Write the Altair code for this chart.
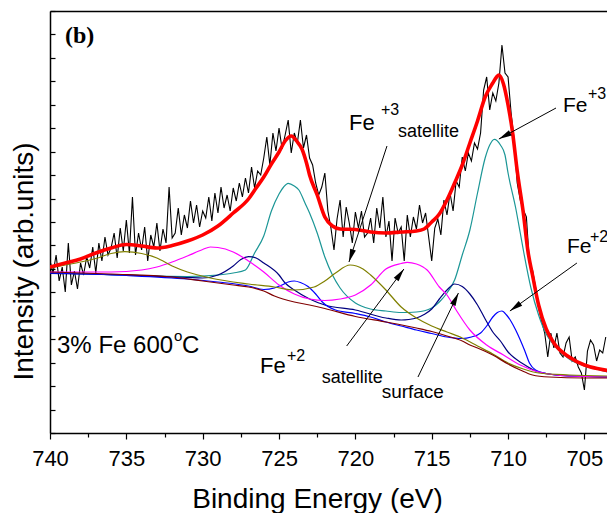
import math
import altair as alt
import pandas as pd

# ---------------- data ----------------
E_LO, E_HI = 703.52, 740.0
I_TOP = 422.0
PLOT_W, PLOT_H = 557, 422

# measured spectrum, 0.2 eV steps from 740.0 eV downwards
raw_counts = [
    172, 160, 178, 152, 166, 141, 190, 148, 162, 144,
    170, 158, 176, 165, 186, 160, 190, 172, 196, 178,
    185, 200, 175, 205, 182, 213, 180, 236, 178, 200,
    183, 206, 172, 198, 186, 210, 182, 204, 190, 246,
    195, 200, 225, 198, 218, 205, 232, 210, 228, 206,
    222, 215, 236, 212, 240, 220, 246, 225, 238, 222,
    245, 232, 250, 236, 255, 240, 266, 245, 262, 258,
    275, 296, 268, 300, 282, 305, 284, 298, 313, 280,
    300, 290, 313, 285, 298, 275, 268, 250, 238, 246,
    260, 222, 205, 183, 214, 233, 196, 226, 210, 190,
    221, 205, 222, 196, 200, 215, 190, 225, 205, 236,
    196, 212, 172, 215, 200, 206, 172, 218, 196, 216,
    204, 228, 210, 220, 196, 172, 205, 214, 198, 233,
    218, 240, 222, 252, 246, 276, 262, 280, 272, 290,
    284, 300, 343, 356, 323, 340, 332, 350, 388, 360,
    356, 320, 293, 250, 233, 223, 216, 170, 163, 146,
    125, 112, 100, 76, 100, 85, 100, 80, 76, 90,
    96, 72, 76, 66, 60, 43, 82, 93, 88, 72,
    83, 80, 96,
]
raw_energy = [round(740.0 - 0.2 * i, 1) for i in range(len(raw_counts))]

# fitted envelope (red)
env_E = [740, 739, 738, 737, 736, 735, 734, 733, 732, 731, 730, 729, 728, 727,
         726.5, 726, 725.5, 725, 724.6, 724.2, 723.8, 723.5, 723.2, 723, 722.5,
         722, 721.5, 721, 720, 719, 718, 717, 716, 715.5, 715, 714.5, 714,
         713.5, 713, 712.5, 712, 711.5, 711, 710.75, 710.6, 710.3, 710, 709.7,
         709.4, 709, 708.7, 708.4, 708, 707.5, 707, 706, 705, 704, 703.5]
env_I = [166, 170, 174, 180, 185, 188.5, 187, 185, 187.5, 192, 198, 207, 220, 234,
         245, 256, 269, 281, 292, 297, 291, 284, 270, 258, 238,
         216, 207, 204, 203.5, 201, 200, 201, 202, 204, 211, 219, 233,
         250, 268, 290, 312, 336, 350, 356, 358, 349, 328, 300,
         262, 220, 182, 158, 128, 104, 90, 76, 68, 64, 62.5]

# Fe+3 component (teal)
fe3_E = [740, 735, 731, 729, 728, 727.2, 726.6, 726, 725.5, 725, 724.7, 724.4,
         724, 723.7, 723.3, 723, 722.5, 722, 721.5, 721, 720, 719, 718, 717,
         716, 715, 714.5, 714, 713.5, 713, 712.5, 712, 711.5, 711.2, 710.9,
         710.5, 710.2, 710, 709.5, 709.2, 709, 708.5, 708, 707.5, 707, 706,
         705, 704, 703.5]
fe3_I = [160, 158, 156.5, 158, 160, 163, 180, 197, 222, 239, 246, 249.7,
         247, 243, 230, 220, 200, 176, 158, 145, 130, 124, 122, 120.5,
         121, 125, 131, 140, 153, 178, 203, 240, 275, 288, 293.7,
         288, 278, 260, 225, 200, 183, 145, 118, 99, 88, 74,
         67, 63, 61]

# surface component (navy)
surf_E = [740, 735, 731, 730, 729, 728, 727.5, 727, 726.5, 726, 725, 724.6, 724,
          723, 722, 720, 718, 717, 716.5, 716, 715.5, 715, 714.5, 714, 713.5,
          713, 712.5, 712, 711.5, 711, 710.5, 710, 709, 708, 706, 703.5]
surf_I = [159.5, 158, 155.5, 155, 158, 167, 173.5, 176.3, 175, 170, 158, 150, 143,
          134, 128, 123, 115, 113, 113.5, 115, 118.5, 124, 134, 143, 149,
          146.5, 139, 128, 114, 101, 92, 81, 69, 61, 57, 56]

# Fe+2 component (blue)
fe2_E = [740, 735, 731, 729, 727, 726, 725.3, 724.8, 724.4, 724, 723.6, 723.1,
         722.6, 722.2, 721.3, 720, 719, 718, 717, 716, 715, 714, 713, 712.4,
         711.8, 711.4, 711, 710.7, 710.4, 710.1, 709.8, 709.5, 709.2, 708.9,
         708.6, 708.2, 707.5, 706, 703.5]
fe2_I = [160, 157.5, 154, 151, 147, 143.5, 145, 148, 151, 152, 150.5, 146.5,
         139, 131.5, 123, 119.5, 116, 111, 107, 103, 99.5, 96, 94.5, 96,
         100, 107, 116, 120.5, 122, 118, 111.5, 103, 93, 82,
         70, 63, 59.5, 57, 56]

# Fe+2 satellite (magenta)
sat2_E = [740, 736, 734, 733, 732, 731, 730, 729.5, 729, 728, 727, 726, 725,
          724, 723, 722, 721, 720, 719, 718, 717, 716.6, 716, 715.3, 714.5,
          714, 713.4, 712.5, 711.4, 710.3, 709.2, 708, 706, 703.5]
sat2_I = [161, 161, 163, 166, 171, 177, 183.5, 186, 185.5, 181, 172, 161, 148,
          139, 134, 132.5, 134, 138, 148, 164, 169.5, 170.7, 169, 163, 146,
          138, 123, 103, 88, 78, 68, 61, 57, 56]

# Fe+3 satellite (olive)
sat3_E = [740, 738, 737, 736, 735.1, 734, 733, 732, 731, 729.5, 727, 725.3, 724,
          722.7, 722, 721.3, 720.35, 719.5, 719, 718, 717, 716, 715, 714, 713,
          712, 711, 710, 709, 708, 706, 703.5]
sat3_I = [165, 171, 174.5, 179.5, 181.3, 179.5, 175, 167, 161, 155, 149, 146, 143,
          146, 152, 160, 168, 164, 158, 143, 126, 115, 107, 101, 95,
          87, 79, 70, 64, 60, 58, 57]

# Shirley background (dark red)
bg_E = [740, 736, 732, 730, 728, 727, 726, 725.3, 724, 723, 722, 720, 718, 716,
        715, 714, 713, 712.5, 712, 711, 710, 709.2, 708.4, 707.3, 705, 703.5]
bg_I = [161, 159, 156, 152, 148, 146, 142, 137, 131, 128, 124.5, 116.5, 111, 105,
        101.5, 97, 92, 88, 85, 78, 69, 63, 58, 56, 55, 55]

# annotation labels
lab_text = ["Fe", "+3", "satellite", "Fe", "+3", "Fe", "+2", "Fe", "+2",
            "satellite", "surface", "3% Fe 600", "o", "C"]
lab_E = [720.42, 718.32, 717.21, 706.40, 704.77, 706.14, 704.64, 726.25, 724.48,
         722.21, 718.28, 739.54, 731.88, 731.36]
lab_I = [303, 318, 296, 321, 334.5, 180, 191, 60, 72,
         50.3, 35, 80, 92.3, 80]
lab_size = [22, 16, 18, 21, 16, 21, 16, 22, 16, 18, 19, 24, 15, 24]

panel_text = ["(b)"]
panel_E = [739.02]
panel_I = [390]

# arrows: start -> tip
arr_E0 = [717.93, 706.86, 705.49, 720.57, 715.90]
arr_I0 = [287, 325, 170, 87, 56]
arr_E1 = [720.42, 710.60, 709.88, 716.82, 713.25]
arr_I1 = [171, 294, 122, 164, 140]

x_major = [740, 735, 730, 725, 720, 715, 710, 705]
x_minor = [737.5, 732.5, 727.5, 722.5, 717.5, 712.5, 707.5]
y_tick_vals = [round(k * I_TOP / 18, 2) for k in range(0, 19)]

# ---------------- chart ----------------
FONT = "Liberation Sans"
xs = alt.Scale(domain=[E_LO, E_HI], reverse=True, nice=False, zero=False)
ys = alt.Scale(domain=[0, I_TOP], nice=False, zero=False)


def curve(E, I, color, width, interp="monotone", xa=None, ya=None):
    df = pd.DataFrame({"E": E, "I": I})
    return alt.Chart(df).mark_line(
        color=color, strokeWidth=width, interpolate=interp, clip=True
    ).encode(
        x=alt.X("E:Q", scale=xs, axis=xa),
        y=alt.Y("I:Q", scale=ys, axis=ya),
    )


ax_bottom = alt.Axis(
    orient="bottom", values=x_major, format="d", tickSize=6, tickWidth=1.2,
    tickColor="black", labelFont=FONT, labelFontSize=22, labelColor="black",
    labelPadding=9, labelFlush=False, labelOverlap=False, domain=True,
    domainColor="black", domainWidth=1.5, grid=False,
    title="Binding Energy (eV)", titleFont=FONT, titleFontSize=28,
    titleFontWeight="normal", titleColor="black", titleX=267, titleY=74,
    titleBaseline="alphabetic", titleAlign="center",
)
ax_minor = alt.Axis(
    orient="bottom", values=x_minor, tickSize=4, tickWidth=1.2, tickColor="black",
    labels=False, domain=False, grid=False, title=None,
)
ax_top = alt.Axis(
    orient="top", ticks=False, labels=False, domain=True, domainColor="black",
    domainWidth=1.5, grid=False, title=None,
)
ax_left = alt.Axis(
    orient="left", ticks=False, labels=False, domain=True, domainColor="black",
    domainWidth=1.5, grid=False, title="Intensity (arb.units)", titleFont=FONT,
    titleFontSize=28, titleFontWeight="normal", titleColor="black",
    titleX=-18, titleY=250, titleAngle=270, titleBaseline="alphabetic",
    titleAlign="center",
)
ax_yticks = alt.Axis(
    orient="right", offset=-PLOT_W, values=y_tick_vals, tickSize=5, tickWidth=1.2,
    tickColor="black", labels=False, domain=False, grid=False, title=None,
)

raw = curve(raw_energy, raw_counts, "black", 1.1, "linear", ax_bottom, ax_left)
teal = curve(fe3_E, fe3_I, "#1b9696", 1.2, xa=ax_minor, ya=ax_yticks)
navy = curve(surf_E, surf_I, "#00007f", 1.2, xa=ax_top)
blue = curve(fe2_E, fe2_I, "#0000ff", 1.2)
mag = curve(sat2_E, sat2_I, "#ff00ff", 1.2)
olive = curve(sat3_E, sat3_I, "#808000", 1.2)
bg = curve(bg_E, bg_I, "#800000", 1.2)
env = curve(env_E, env_I, "#ff0000", 3.6)

# annotations
lab_df = pd.DataFrame({"E": lab_E, "I": lab_I, "t": lab_text, "s": lab_size})
labels = alt.Chart(lab_df).mark_text(
    align="left", baseline="alphabetic", font=FONT, color="black"
).encode(
    x=alt.X("E:Q", scale=xs, axis=None),
    y=alt.Y("I:Q", scale=ys, axis=None),
    text="t:N",
    size=alt.Size("s:Q", scale=None, legend=None),
)

panel_df = pd.DataFrame({"E": panel_E, "I": panel_I, "t": panel_text})
panel = alt.Chart(panel_df).mark_text(
    align="left", baseline="alphabetic", font="Liberation Serif",
    fontWeight="bold", fontSize=24, color="black"
).encode(
    x=alt.X("E:Q", scale=xs, axis=None),
    y=alt.Y("I:Q", scale=ys, axis=None),
    text="t:N",
)

px_per_E = PLOT_W / (E_HI - E_LO)
px_per_I = PLOT_H / I_TOP
seg_rows = []
head_rows = []
for k in range(len(arr_E0)):
    seg_rows.append({"E": arr_E0[k], "I": arr_I0[k], "a": k})
    seg_rows.append({"E": arr_E1[k], "I": arr_I1[k], "a": k})
    dx = (arr_E0[k] - arr_E1[k]) * px_per_E
    dy = (arr_I0[k] - arr_I1[k]) * px_per_I
    ang = math.degrees(math.atan2(dx, -dy)) % 360
    head_rows.append({"E": arr_E1[k], "I": arr_I1[k], "ang": ang})

segs = alt.Chart(pd.DataFrame(seg_rows)).mark_line(
    color="black", strokeWidth=1
).encode(
    x=alt.X("E:Q", scale=xs, axis=None),
    y=alt.Y("I:Q", scale=ys, axis=None),
    detail="a:N",
)
heads = alt.Chart(pd.DataFrame(head_rows)).mark_point(
    shape="M0,0L0.6,2.6L-0.6,2.6Z", filled=True, opacity=1, color="black",
    size=100, strokeWidth=0
).encode(
    x=alt.X("E:Q", scale=xs, axis=None),
    y=alt.Y("I:Q", scale=ys, axis=None),
    angle=alt.Angle("ang:Q", scale=None),
)

chart = alt.layer(
    raw, teal, navy, blue, mag, olive, bg, env, segs, heads, labels, panel
).resolve_axis(
    x="independent", y="independent"
).properties(
    width=PLOT_W, height=PLOT_H,
    autosize=alt.AutoSizeParams(type="none"),
    padding={"left": 42, "top": 3, "right": 0, "bottom": 80},
    background="white",
).configure_view(stroke=None)

chart.save("out.html", embed_options={"renderer": "svg", "actions": False})
